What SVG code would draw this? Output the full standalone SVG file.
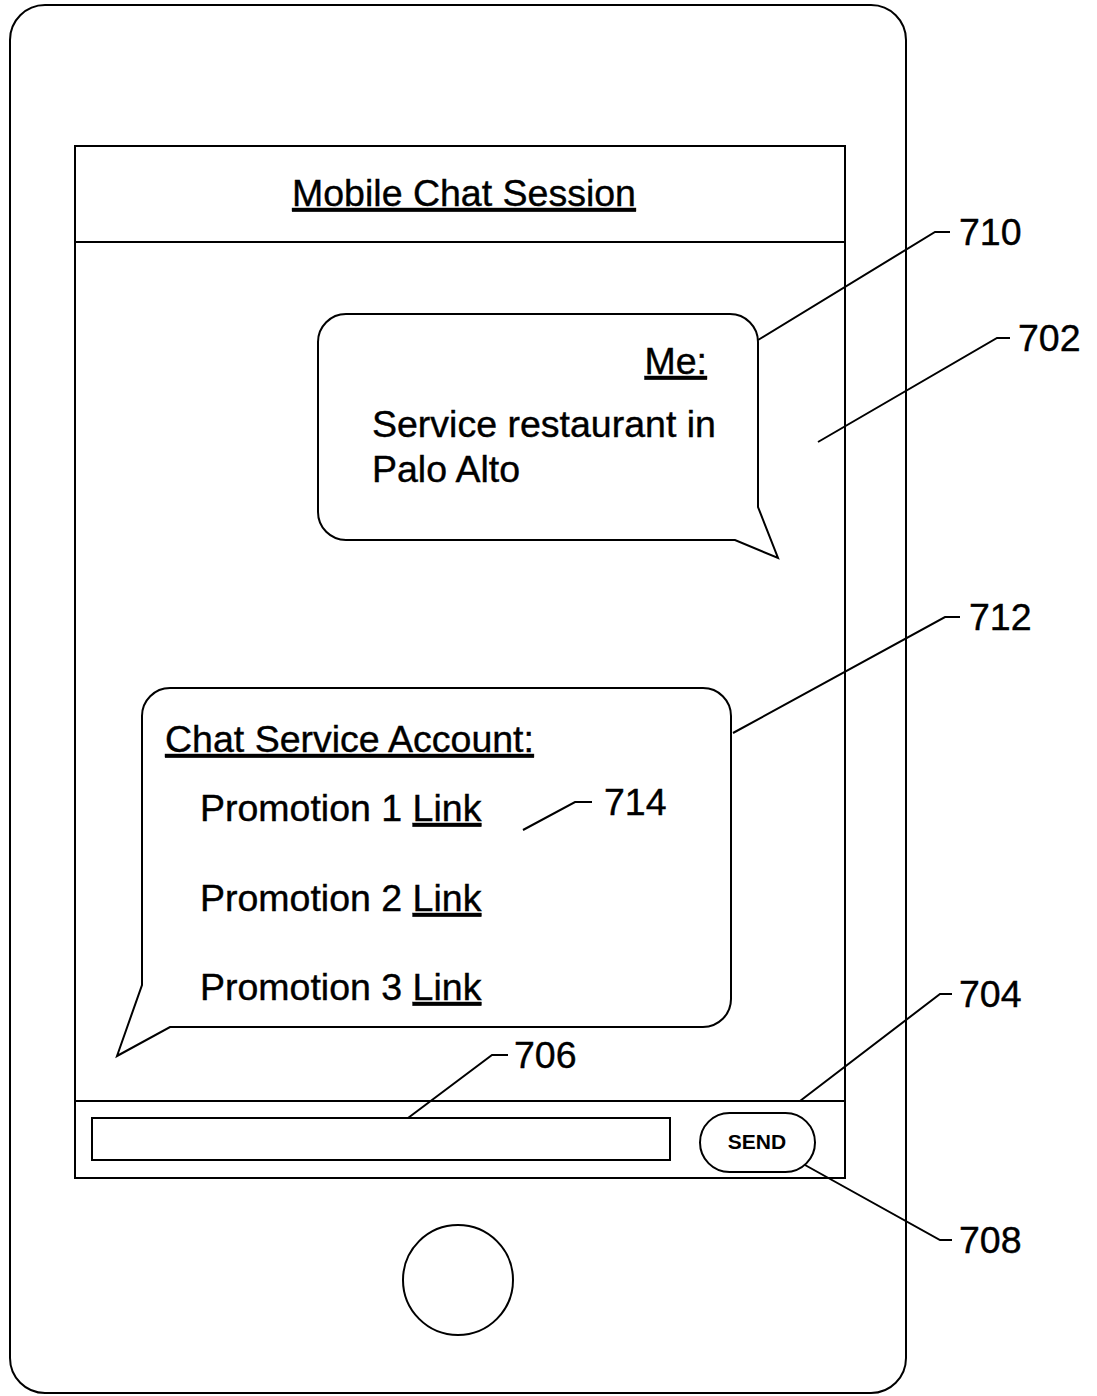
<svg xmlns="http://www.w3.org/2000/svg" width="1097" height="1396" viewBox="0 0 1097 1396">
<style>
.ln{fill:none;stroke:#000;stroke-width:2}
.t{font-family:"Liberation Sans",Arial,sans-serif;font-size:37.5px;fill:#000;stroke:#000;stroke-width:0.4}
.u{text-decoration:underline}
.s{font-family:"Liberation Sans",Arial,sans-serif;font-size:21px;font-weight:bold;fill:#000}
</style>
<rect width="1097" height="1396" fill="#fff"/>
<g id="phone">
<rect class="ln" x="10" y="5" width="896" height="1388" rx="35"/>
<circle class="ln" cx="458" cy="1280" r="55"/>
</g>
<g id="screen">
<rect class="ln" x="75" y="146" width="770" height="1032"/>
<line class="ln" x1="75" y1="242" x2="845" y2="242"/>
<line class="ln" x1="75" y1="1101" x2="845" y2="1101"/>
<text class="t u" x="464" y="206" text-anchor="middle">Mobile Chat Session</text>
</g>
<g id="bubble702">
<path class="ln" d="M346 314 H730 A28 28 0 0 1 758 342 V507 L778 558 L735 540 H346 A28 28 0 0 1 318 512 V342 A28 28 0 0 1 346 314 Z"/>
<text class="t u" x="707" y="374" text-anchor="end">Me:</text>
<text class="t" x="372" y="437">Service restaurant in</text>
<text class="t" x="372" y="482">Palo Alto</text>
</g>
<g id="bubble712">
<path class="ln" d="M170 688 H703 A28 28 0 0 1 731 716 V999 A28 28 0 0 1 703 1027 H170 L117 1056 L142 985 V716 A28 28 0 0 1 170 688 Z"/>
<text class="t u" x="165" y="752">Chat Service Account:</text>
<text class="t" x="200" y="821">Promotion 1 <tspan class="u">Link</tspan></text>
<text class="t" x="200" y="911">Promotion 2 <tspan class="u">Link</tspan></text>
<text class="t" x="200" y="1000">Promotion 3 <tspan class="u">Link</tspan></text>
</g>
<g id="input706">
<rect class="ln" x="92" y="1118" width="578" height="42"/>
</g>
<g id="send708">
<rect class="ln" x="700" y="1113" width="115" height="59" rx="29.5"/>
<text class="s" x="757" y="1149" text-anchor="middle">SEND</text>
</g>
<g id="connectors">
<polyline class="ln" points="758,340 935,232 950,232"/>
<polyline class="ln" points="818,442 997,338 1010,338"/>
<polyline class="ln" points="733,733 945,617 960,617"/>
<polyline class="ln" points="523,830 575,802 592,802"/>
<polyline class="ln" points="800,1101 940,994 952,994"/>
<polyline class="ln" points="408,1118 492,1055 508,1055"/>
<polyline class="ln" points="805,1165 940,1240 952,1240"/>
</g>
<g id="labels">
<text class="t" x="959" y="245">710</text>
<text class="t" x="1018" y="351">702</text>
<text class="t" x="969" y="630">712</text>
<text class="t" x="604" y="815">714</text>
<text class="t" x="959" y="1007">704</text>
<text class="t" x="514" y="1068">706</text>
<text class="t" x="959" y="1253">708</text>
</g>
</svg>
